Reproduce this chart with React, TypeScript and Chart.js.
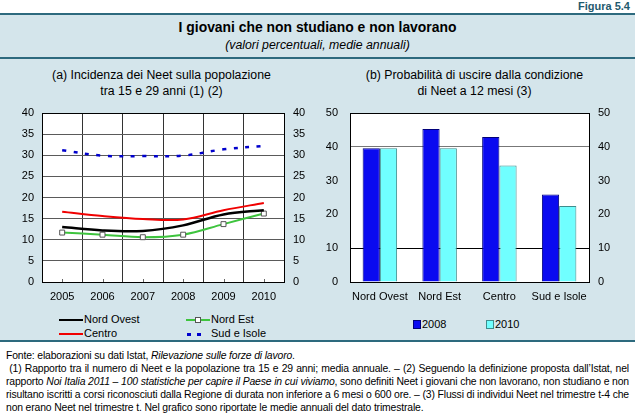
import React, { useEffect, useRef } from "react";
import { Chart, registerables } from "chart.js";
Chart.register(...registerables);

// ---- data ----
const years = ["2005", "2006", "2007", "2008", "2009", "2010"];
const nordOvest = [13.0, 12.2, 12.1, 13.4, 16.0, 17.0];
const nordEst = [11.7, 11.2, 10.6, 11.2, 13.7, 16.2];
const centro = [16.6, 15.6, 14.9, 14.8, 17.0, 18.7];
const sudIsole = [31.2, 29.9, 29.8, 29.9, 31.4, 32.2];
const leftMax = 40;
const leftStep = 5;

const regions = ["Nord Ovest", "Nord Est", "Centro", "Sud e Isole"];
const exit2008 = [39.6, 45.3, 42.9, 25.9];
const exit2010 = [39.6, 39.6, 34.5, 22.5];
const rightMax = 50;
const rightStep = 10;

const FONT = '"Liberation Sans", Arial, Helvetica, sans-serif';
const PANEL = "#d4e5eb";
const TEAL = "#2d6a7e";

const tickFont = { family: FONT, size: 11 };

const whiteArea = {
  id: "whiteArea",
  beforeDraw(chart: any) {
    const { ctx, chartArea: a } = chart;
    ctx.save();
    ctx.fillStyle = "#fff";
    ctx.fillRect(a.left, a.top, a.right - a.left, a.bottom - a.top);
    ctx.restore();
  },
};

// pins the plot area to fixed canvas coordinates
const fixArea = (l: number, t: number, r: number, b: number) => ({
  id: "fixArea",
  afterLayout(chart: any) {
    const ca = chart.chartArea;
    ca.left = l; ca.top = t; ca.right = r; ca.bottom = b;
    ca.width = r - l; ca.height = b - t;
    Object.values(chart.scales).forEach((s: any) => {
      if (s.isHorizontal()) {
        const h = s.height;
        s.left = l; s.right = r; s.width = r - l;
        s.top = b; s.bottom = b + h;
      } else {
        const w = s.width;
        s.top = t; s.bottom = b; s.height = b - t;
        if (s.position === "left") { s.right = l; s.left = l - w; }
        else { s.left = r; s.right = r + w; }
      }
      s.configure();
    });
  },
});

const centerTicks = {
  id: "centerTicks",
  afterDraw(chart: any) {
    const { ctx, chartArea: a } = chart;
    const xs = chart.scales.x;
    ctx.save();
    ctx.strokeStyle = "#666";
    ctx.lineWidth = 1;
    for (let i = 0; i < years.length; i++) {
      const px = Math.round(xs.getPixelForValue(i)) + 0.5;
      ctx.beginPath();
      ctx.moveTo(px, a.bottom);
      ctx.lineTo(px, a.bottom - 3);
      ctx.stroke();
    }
    ctx.restore();
  },
};

function LeftChart() {
  const ref = useRef<HTMLCanvasElement>(null);
  useEffect(() => {
    const chart = new Chart(ref.current!, {
      type: "line",
      data: {
        labels: years,
        datasets: [
          { label: "Nord Ovest", data: nordOvest, borderColor: "#000", borderWidth: 2.5, pointRadius: 0, tension: 0.35 },
          {
            label: "Nord Est", data: nordEst, borderColor: "#3ec43e", borderWidth: 2, pointStyle: "rect", pointRadius: 3.5,
            pointBackgroundColor: "#fff", pointBorderColor: "#555", pointBorderWidth: 1, tension: 0.35,
          },
          { label: "Centro", data: centro, borderColor: "#f00000", borderWidth: 2, pointRadius: 0, tension: 0.35 },
          { label: "Sud e Isole", data: sudIsole, borderColor: "#0000cc", borderWidth: 2.5, borderDash: [4, 7.5], pointRadius: 0, tension: 0.35 },
        ],
      },
      options: {
        animation: false,
        responsive: false,
        layout: { padding: { top: 8 } },
        plugins: { legend: { display: false }, tooltip: { enabled: false } },
        scales: {
          x: {
            type: "category",
            offset: true,
            grid: { offset: true, color: "#333", drawTicks: false },
            border: { color: "#000" },
            ticks: { font: tickFont, color: "#000", padding: 8, maxRotation: 0 },
            afterFit(s: any) { s.height = 23; },
          },
          y: {
            position: "left",
            min: 0,
            max: leftMax,
            ticks: { stepSize: leftStep, font: tickFont, color: "#000", padding: 8 },
            grid: { color: (c: any) => (c.tick && c.tick.value === leftMax ? "#000" : "#5a5a5a"), drawTicks: false },
            border: { color: "#000" },
            afterFit(s: any) { s.width = 42; },
          },
          y2: {
            position: "right",
            min: 0,
            max: leftMax,
            ticks: { stepSize: leftStep, font: tickFont, color: "#000", padding: 9 },
            grid: { drawOnChartArea: false, drawTicks: false },
            border: { color: "#000" },
            afterFit(s: any) { s.width = 36; },
          },
        },
      } as any,
      plugins: [fixArea(42, 13, 284, 182), whiteArea, centerTicks],
    });
    return () => chart.destroy();
  }, []);
  return <canvas ref={ref} width={320} height={205} style={{ position: "absolute", left: 0, top: 100 }} />;
}

function RightChart() {
  const ref = useRef<HTMLCanvasElement>(null);
  useEffect(() => {
    const chart = new Chart(ref.current!, {
      type: "bar",
      data: {
        labels: regions,
        datasets: [
          { label: "2008", data: exit2008, backgroundColor: "#0a0af0", borderColor: "#00007a", borderWidth: 1 },
          { label: "2010", data: exit2010, backgroundColor: "#70ffff", borderColor: "#3f8c8c", borderWidth: 1 },
        ],
      },
      options: {
        animation: false,
        responsive: false,
        layout: { padding: { top: 8 } },
        plugins: { legend: { display: false }, tooltip: { enabled: false } },
        datasets: { bar: { categoryPercentage: 0.577, barPercentage: 1 } },
        scales: {
          x: {
            type: "category",
            offset: true,
            grid: { display: false, drawTicks: false },
            border: { color: "#000" },
            ticks: { font: tickFont, color: "#000", padding: 8, maxRotation: 0, autoSkip: false },
            afterFit(s: any) { s.height = 23; },
          },
          y: {
            position: "left",
            min: 0,
            max: rightMax,
            ticks: { stepSize: rightStep, font: tickFont, color: "#000", padding: 12 },
            grid: {
              color: (c: any) => {
                const v = c.tick ? c.tick.value : -1;
                if (v === 10 || v === rightMax) return "#000";
                if (v === 40) return "#777";
                return "rgba(0,0,0,0)";
              },
              drawTicks: false,
            },
            border: { color: "#000" },
            afterFit(s: any) { s.width = 30; },
          },
          y2: {
            position: "right",
            min: 0,
            max: rightMax,
            ticks: { stepSize: rightStep, font: tickFont, color: "#000", padding: 9 },
            grid: { drawOnChartArea: false, drawTicks: false },
            border: { color: "#000" },
            afterFit(s: any) { s.width = 46; },
          },
        },
      } as any,
      plugins: [fixArea(30, 13, 269, 182), whiteArea],
    });
    return () => chart.destroy();
  }, []);
  return <canvas ref={ref} width={315} height={205} style={{ position: "absolute", left: 320, top: 100 }} />;
}

const txt = (top: number, h: number): React.CSSProperties => ({
  position: "absolute", top: top - h / 2, height: h, lineHeight: h + "px", whiteSpace: "nowrap",
});

function LineSwatch({ color, dashed, marker }: { color: string; dashed?: boolean; marker?: boolean }) {
  return (
    <span style={{ position: "relative", display: "inline-block", width: 24, height: 10, marginRight: 1, verticalAlign: "middle" }}>
      {dashed ? (
        <>
          <span style={{ position: "absolute", left: 1, top: 4, width: 4, height: 2.5, background: color }} />
          <span style={{ position: "absolute", left: 11, top: 4, width: 4, height: 2.5, background: color }} />
        </>
      ) : (
        <span style={{ position: "absolute", left: 0, top: 4, width: 24, height: 2, background: color }} />
      )}
      {marker && (
        <span style={{ position: "absolute", left: 9, top: 2, width: 4, height: 4, background: "#fff", border: "1px solid #555" }} />
      )}
    </span>
  );
}

export default function App() {
  const small: React.CSSProperties = { fontFamily: FONT, fontSize: 12.3, color: "#000" };
  const leg: React.CSSProperties = { fontFamily: FONT, fontSize: 11, color: "#000" };
  const fn: React.CSSProperties = {
    fontFamily: FONT, fontSize: 10.4, letterSpacing: "-0.15px", color: "#000", position: "absolute",
    left: 6, width: 623, height: 13, lineHeight: "13px", whiteSpace: "nowrap",
  };
  const just: React.CSSProperties = { textAlign: "justify", textAlignLast: "justify" as any };
  return (
    <div style={{ position: "absolute", left: 0, top: 0, width: 635, height: 418, background: "#fff", overflow: "hidden", fontFamily: FONT }}>
      <div style={{ ...txt(6, 12), right: 5, fontSize: 11, fontWeight: "bold", color: "#1f5a6e" }}>Figura 5.4</div>
      <div style={{ position: "absolute", left: 0, top: 13, width: 635, height: 328, background: PANEL }} />
      <div style={{ position: "absolute", left: 0, top: 13, width: 635, height: 2, background: TEAL }} />
      <div style={{ position: "absolute", left: 0, top: 57, width: 635, height: 2, background: TEAL }} />
      <div style={{ position: "absolute", left: 0, top: 340, width: 635, height: 2, background: TEAL }} />
      <div style={{ ...txt(27, 16), left: 0, width: 635, textAlign: "center", fontSize: 13.9, fontWeight: "bold" }}>
        I giovani che non studiano e non lavorano
      </div>
      <div style={{ ...txt(45, 14), left: 0, width: 635, textAlign: "center", fontSize: 12.3, fontStyle: "italic" }}>
        (valori percentuali, medie annuali)
      </div>

      <div style={{ ...small, ...txt(75, 15), left: 0, width: 323, textAlign: "center" }}>(a) Incidenza dei Neet sulla popolazione</div>
      <div style={{ ...small, ...txt(91, 15), left: 0, width: 323, textAlign: "center" }}>tra 15 e 29 anni (1) (2)</div>
      <div style={{ ...small, ...txt(75, 15), left: 317, width: 315, textAlign: "center" }}>(b) Probabilità di uscire dalla condizione</div>
      <div style={{ ...small, ...txt(91, 15), left: 317, width: 315, textAlign: "center" }}>di Neet a 12 mesi (3)</div>

      <LeftChart />
      <RightChart />

      {/* left legend */}
      <div style={{ ...leg, ...txt(319, 14), left: 59 }}><LineSwatch color="#000" />Nord Ovest</div>
      <div style={{ ...leg, ...txt(319, 14), left: 186 }}><LineSwatch color="#3ec43e" marker />Nord Est</div>
      <div style={{ ...leg, ...txt(333, 14), left: 59 }}><LineSwatch color="#f00000" />Centro</div>
      <div style={{ ...leg, ...txt(333, 14), left: 186 }}><LineSwatch color="#0000cc" dashed />Sud e Isole</div>

      {/* right legend */}
      <div style={{ ...leg, ...txt(324, 14), left: 413 }}>
        <span style={{ display: "inline-block", width: 6, height: 7, background: "#0a0af0", border: "1px solid #00007a", marginRight: 1, verticalAlign: "-1px" }} />2008
      </div>
      <div style={{ ...leg, ...txt(324, 14), left: 486 }}>
        <span style={{ display: "inline-block", width: 6, height: 7, background: "#70ffff", border: "1px solid #3f8c8c", marginRight: 1, verticalAlign: "-1px" }} />2010
      </div>

      {/* footnotes */}
      <div style={{ ...fn, top: 349 }}>Fonte: elaborazioni su dati Istat, <i>Rilevazione sulle forze di lavoro</i>.</div>
      <div style={{ ...fn, ...just, top: 362 }}>&nbsp;(1) Rapporto tra il numero di Neet e la popolazione tra 15 e 29 anni; media annuale. – (2) Seguendo la definizione proposta dall’Istat, nel</div>
      <div style={{ ...fn, ...just, top: 375 }}>rapporto <i>Noi Italia 2011 – 100 statistiche per capire il Paese in cui viviamo</i>, sono definiti Neet i giovani che non lavorano, non studiano e non</div>
      <div style={{ ...fn, ...just, top: 388 }}>risultano iscritti a corsi riconosciuti dalla Regione di durata non inferiore a 6 mesi o 600 ore. – (3) Flussi di individui Neet nel trimestre t-4 che</div>
      <div style={{ ...fn, top: 401 }}>non erano Neet nel trimestre t. Nel grafico sono riportate le medie annuali del dato trimestrale.</div>
    </div>
  );
}
